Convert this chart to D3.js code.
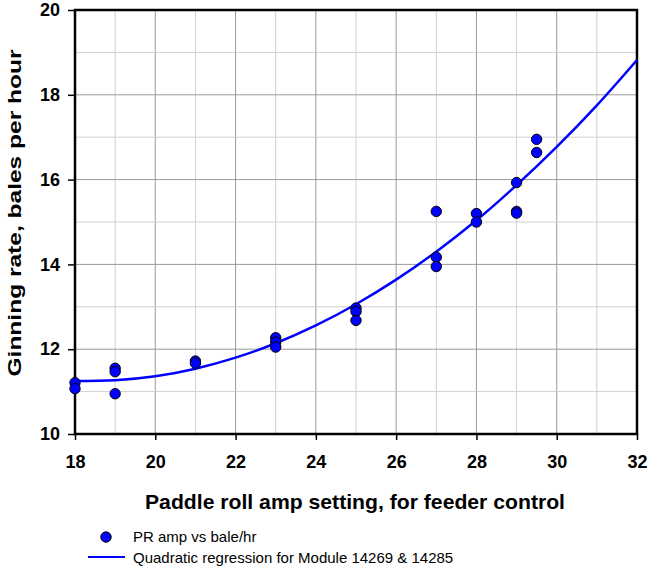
<!DOCTYPE html>
<html>
<head>
<meta charset="utf-8">
<script src="https://cdn.jsdelivr.net/npm/d3@7"></script>
<style>
  body { margin: 0; background: #fff; }
  text { font-family: Arial, "Liberation Sans", sans-serif; }
</style>
</head>
<body>
<div id="chart"></div>
<script>
// Observed points: paddle roll amp vs bales per hour
const ampValues = [18, 18, 19, 19, 19, 21, 21, 23, 23, 23, 25, 25, 25, 27, 27, 27, 28, 28, 29, 29, 29, 29.5, 29.5];
const rateValues = [11.21, 11.07, 11.55, 11.47, 10.95, 11.72, 11.67, 12.27, 12.17, 12.05, 12.97, 12.89, 12.68,
    15.25, 14.17, 13.95, 15.2, 15.0, 15.93, 15.25, 15.21, 16.95, 16.64];

// Quadratic regression curve at each integer setting
const fitX = [18, 19, 20, 21, 22, 23, 24, 25, 26, 27, 28, 29, 30, 31, 32];
const fitY = [11.25, 11.27, 11.36, 11.54, 11.80, 12.14, 12.56, 13.06, 13.64, 14.30, 15.04, 15.87, 16.77, 17.75, 18.82];

const xTicks = [18, 20, 22, 24, 26, 28, 30, 32];
const yTicks = [10, 12, 14, 16, 18, 20];

const legendLabels = ["PR amp vs bale/hr", "Quadratic regression for Module 14269 & 14285"];

const width = 650, height = 568;
const margin = { top: 10, right: 13, bottom: 134, left: 75 };
const w = width - margin.left - margin.right;
const h = height - margin.top - margin.bottom;

const svg = d3.select("#chart")
    .append("svg")
    .attr("width", width)
    .attr("height", height);

const g = svg.append("g")
    .attr("transform", `translate(${margin.left},${margin.top})`);

const x = d3.scaleLinear().domain([18, 32]).range([0, w]);
const y = d3.scaleLinear().domain([10, 20]).range([h, 0]);

// Grid lines: every unit, darker on the labelled ones
g.selectAll(".vgrid")
    .data(d3.range(19, 32))
    .enter().append("line")
    .attr("x1", d => x(d)).attr("x2", d => x(d))
    .attr("y1", 0).attr("y2", h)
    .attr("stroke", d => d % 2 === 0 ? "#9a9a9a" : "#cfcfcf")
    .attr("stroke-width", 1);

g.selectAll(".hgrid")
    .data(d3.range(11, 20))
    .enter().append("line")
    .attr("x1", 0).attr("x2", w)
    .attr("y1", d => y(d)).attr("y2", d => y(d))
    .attr("stroke", d => d % 2 === 0 ? "#9a9a9a" : "#cfcfcf")
    .attr("stroke-width", 1);

// Axes
const xAxis = g.append("g")
    .attr("transform", `translate(0,${h})`)
    .call(d3.axisBottom(x).tickValues(xTicks).tickSize(6).tickPadding(15).tickFormat(d3.format("d")));

const yAxis = g.append("g")
    .call(d3.axisLeft(y).tickValues(yTicks).tickSize(7).tickPadding(8).tickFormat(d3.format("d")));

[xAxis, yAxis].forEach(a => {
    a.select(".domain").remove();
    a.selectAll("line").attr("stroke", "#000").attr("stroke-width", 1.5);
    a.selectAll("text")
        .attr("fill", "#000")
        .style("font-size", "18px")
        .style("font-weight", "bold");
});

// Frame
g.append("rect")
    .attr("x", 0).attr("y", 0)
    .attr("width", w).attr("height", h)
    .attr("fill", "none")
    .attr("stroke", "#000")
    .attr("stroke-width", 2.5);

// Regression curve
const fitData = fitX.map((v, i) => ({ x: v, y: fitY[i] }));
g.append("path")
    .datum(fitData)
    .attr("fill", "none")
    .attr("stroke", "#0000ff")
    .attr("stroke-width", 2.5)
    .attr("d", d3.line().x(d => x(d.x)).y(d => y(d.y)).curve(d3.curveMonotoneX));

// Points
const points = ampValues.map((v, i) => ({ amp: v, rate: rateValues[i] }));
g.selectAll(".pt")
    .data(points)
    .enter().append("circle")
    .attr("cx", d => x(d.amp))
    .attr("cy", d => y(d.rate))
    .attr("r", 5.2)
    .attr("fill", "#0000ff")
    .attr("stroke", "#000")
    .attr("stroke-width", 1);

// Axis titles
svg.append("text")
    .attr("x", 355)
    .attr("y", 509)
    .attr("text-anchor", "middle")
    .attr("textLength", 420)
    .attr("lengthAdjust", "spacingAndGlyphs")
    .style("font-size", "21px")
    .style("font-weight", "bold")
    .text("Paddle roll amp setting, for feeder control");

svg.append("text")
    .attr("transform", "translate(21,213) rotate(-90)")
    .attr("text-anchor", "middle")
    .attr("textLength", 327)
    .attr("lengthAdjust", "spacingAndGlyphs")
    .style("font-size", "18px")
    .style("font-weight", "bold")
    .text("Ginning rate, bales per hour");

// Legend
const legend = svg.append("g");
legend.append("circle")
    .attr("cx", 106).attr("cy", 537).attr("r", 5.2)
    .attr("fill", "#0000ff").attr("stroke", "#000");
legend.append("line")
    .attr("x1", 88).attr("x2", 125)
    .attr("y1", 557).attr("y2", 557)
    .attr("stroke", "#0000ff").attr("stroke-width", 2);
legend.selectAll(".lt")
    .data(legendLabels)
    .enter().append("text")
    .attr("x", 133)
    .attr("y", (d, i) => 542 + i * 21)
    .style("font-size", "15px")
    .text(d => d);
</script>
</body>
</html>
